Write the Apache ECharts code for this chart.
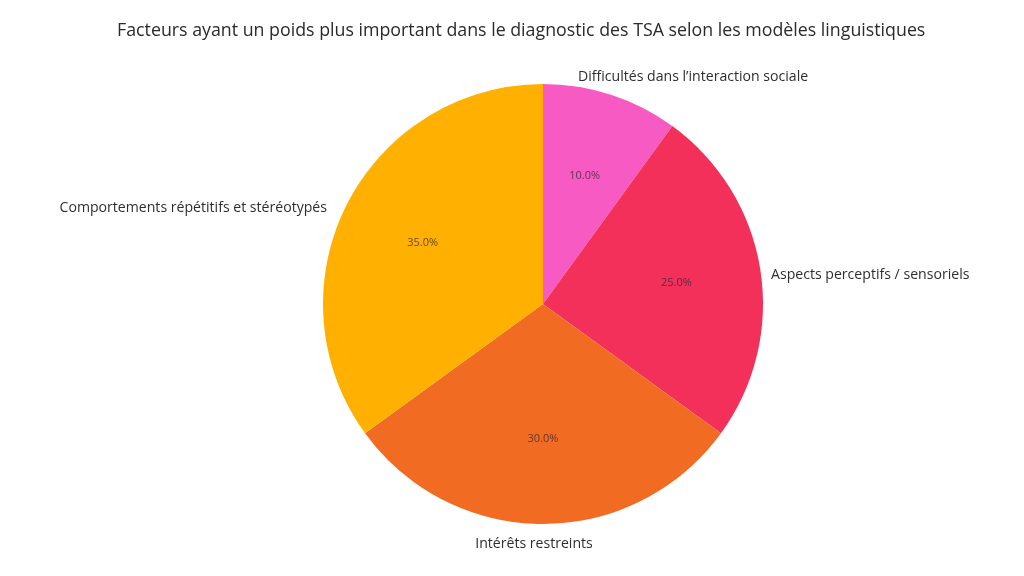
<!DOCTYPE html>
<html>
<head>
<meta charset="utf-8">
<script src="https://cdn.jsdelivr.net/npm/echarts@6/dist/echarts.min.js"></script>
<style>html,body{margin:0;padding:0;background:#fff;}#c{width:1024px;height:576px;}</style>
</head>
<body>
<div id="c"></div>
<script>
const titleText = "Facteurs ayant un poids plus important dans le diagnostic des TSA selon les modèles linguistiques";
const categories = ["Difficultés dans l\u2019interaction sociale", "Aspects perceptifs / sensoriels", "Intérêts restreints", "Comportements répétitifs et stéréotypés"];
const values = [10, 25, 30, 35];
const colors = ["#F75BC3", "#F2305A", "#F26B22", "#FFB000"];

// outer label anchor placement (text layout only)
const labelAnchors = [
  {x: 578, y: 77, align: 'left'},
  {x: 771, y: 275, align: 'left'},
  {x: 534, y: 544, align: 'center'},
  {x: 327, y: 208, align: 'right'}
];

const chart = echarts.init(document.getElementById('c'));
const data = categories.map((n, i) => ({name: n, value: values[i], itemStyle: {color: colors[i]}}));
chart.setOption({
  backgroundColor: '#fff',
  animation: false,
  title: {
    text: titleText, left: 112, top: 17,
    textStyle: {fontFamily: 'Open Sans', fontSize: 17.8, fontWeight: 'normal', color: '#2a2a2a'}
  },
  series: [
    {
      type: 'pie',
      center: [543, 304],
      radius: [0, 220],
      startAngle: 90,
      clockwise: true,
      avoidLabelOverlap: false,
      data: data,
      label: {
        show: true, position: 'outside',
        fontFamily: 'Open Sans', fontSize: 14.1, color: '#2e2e2e',
        formatter: '{b}'
      },
      labelLine: {show: false, length: 0, length2: 0},
      labelLayout: function (p) {
        const a = labelAnchors[p.dataIndex];
        return {x: a.x, y: a.y, align: a.align, verticalAlign: 'middle'};
      },
      emphasis: {disabled: true}
    },
    {
      type: 'pie',
      center: [543, 304],
      radius: [44, 220],
      startAngle: 90,
      clockwise: true,
      silent: true,
      avoidLabelOverlap: false,
      data: categories.map((n, i) => ({name: n, value: values[i]})),
      itemStyle: {color: 'rgba(0,0,0,0)'},
      label: {
        show: true, position: 'inside',
        fontFamily: 'Open Sans', fontSize: 11, color: 'rgba(50,40,50,0.75)',
        formatter: function (p) { return p.percent.toFixed(1) + '%'; }
      },
      labelLine: {show: false},
      emphasis: {disabled: true}
    }
  ]
});
</script>
</body>
</html>
